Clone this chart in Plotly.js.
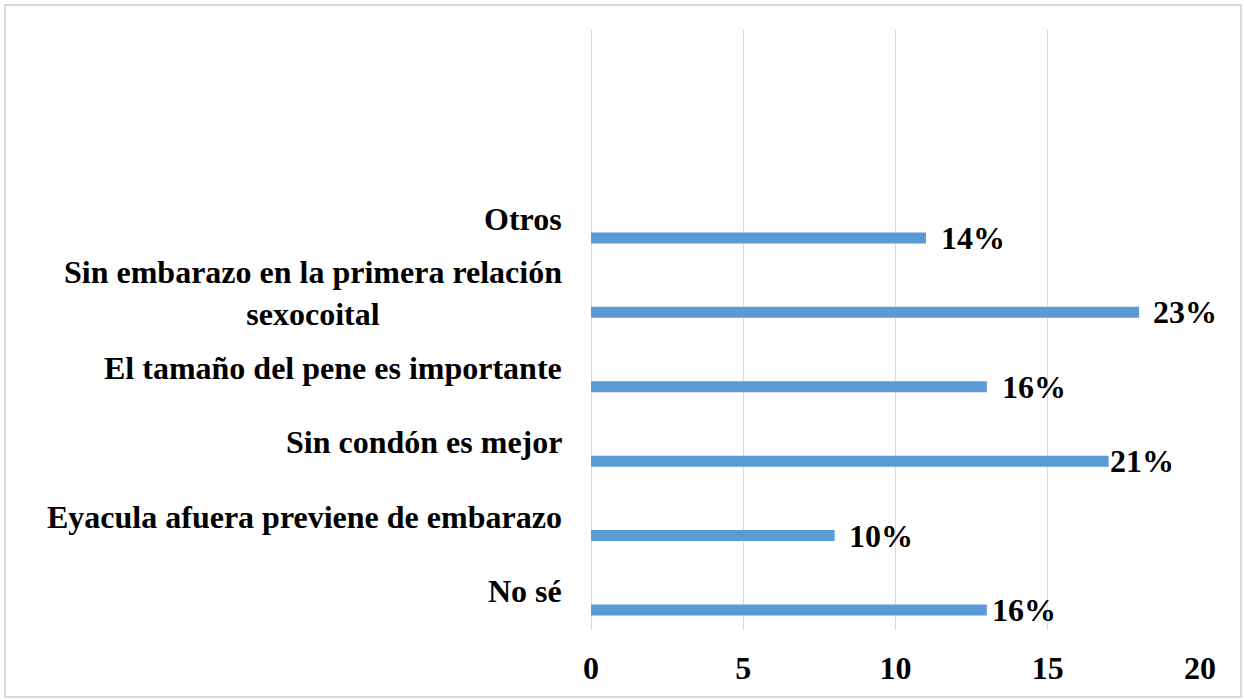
<!DOCTYPE html>
<html>
<head>
<meta charset="utf-8">
<script src="https://cdn.plot.ly/plotly-3.0.1.min.js"></script>
<style>
  html, body { margin: 0; padding: 0; background: #fff; }
  #chart { width: 1244px; height: 700px; }
  #frame { position: absolute; left: 4px; top: 4px; width: 1234px; height: 690px;
           border: 2px solid #d9d9d9; pointer-events: none; }
</style>
</head>
<body>
<div id="chart"></div>
<div id="frame"></div>
<script>
// Categories listed bottom-to-top
const categories = [
  "No sé",
  "Eyacula afuera previene de embarazo",
  "Sin condón es mejor",
  "El tamaño del pene es importante",
  "Sin embarazo en la primera relación<br>sexocoital",
  "Otros"
];
const counts = [13, 8, 17, 13, 18, 11];
const percentLabels = ["16%", "10%", "21%", "16%", "23%", "14%"];
const xTickValues = [0, 5, 10, 15, 20];
const xTickLabels = ["0", "5", "10", "15", "20"];

const FONT = "'Liberation Serif', 'Times New Roman', serif";
const FS = 32;
const BAR_W = 0.148;
const BAR_OFF = -0.329;
const labelGap = [3, 12, -1, 13, 12, 13];

const idx = categories.map((_, i) => i);

const trace = {
  type: "bar",
  orientation: "h",
  x: counts,
  y: idx,
  width: BAR_W,
  offset: BAR_OFF,
  marker: { color: "#5b9bd5" },
  hoverinfo: "skip"
};

const annotations = [];
categories.forEach((c, i) => {
  annotations.push({
    xref: "paper", yref: "y",
    x: 0, y: i,
    xanchor: "right", yanchor: "middle",
    xshift: -27,
    align: "center",
    text: "<b>" + c + "</b>",
    showarrow: false,
    font: { family: FONT, size: FS, color: "#000" }
  });
  annotations.push({
    xref: "x", yref: "y",
    x: counts[i], y: i + BAR_OFF + BAR_W / 2,
    xanchor: "left", yanchor: "middle",
    xshift: labelGap[i],
    text: "<b>" + percentLabels[i] + "</b>",
    showarrow: false,
    font: { family: FONT, size: FS, color: "#000" }
  });
});

const layout = {
  width: 1244,
  height: 700,
  margin: { l: 591, r: 44, t: 30, b: 70 },
  paper_bgcolor: "#fff",
  plot_bgcolor: "#fff",
  showlegend: false,
  font: { family: FONT, size: FS, color: "#000" },
  xaxis: {
    range: [0, 20],
    tickvals: xTickValues,
    ticktext: xTickLabels.map(t => "<b>" + t + "</b>"),
    showgrid: true,
    gridcolor: "#d9d9d9",
    gridwidth: 1,
    zeroline: true,
    zerolinecolor: "#d9d9d9",
    zerolinewidth: 1,
    showline: false,
    ticks: "",
    ticklabelstandoff: 16,
    tickfont: { family: FONT, size: FS, color: "#000" },
    fixedrange: true
  },
  yaxis: {
    type: "linear",
    range: [-0.524, 7.54],
    showgrid: false,
    zeroline: false,
    showline: false,
    showticklabels: false,
    ticks: "",
    fixedrange: true
  },
  annotations: annotations
};

Plotly.newPlot("chart", [trace], layout, { displayModeBar: false, staticPlot: true });
</script>
</body>
</html>
